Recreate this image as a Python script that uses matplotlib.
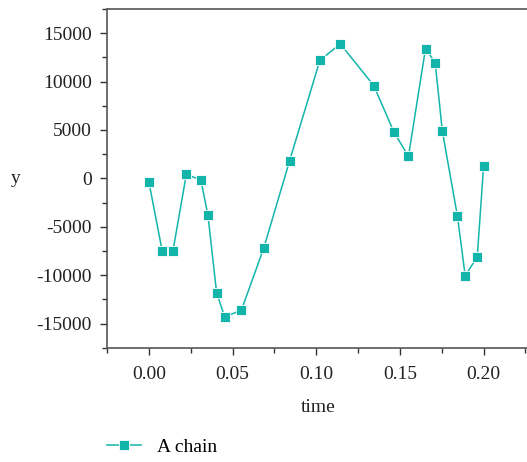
import matplotlib
matplotlib.use("Agg")
import matplotlib.pyplot as plt
from matplotlib.ticker import MultipleLocator

time = [0.0, 0.008, 0.0144, 0.0224, 0.0311, 0.0353, 0.0405, 0.0453, 0.0553, 0.0687,
        0.0841, 0.1022, 0.1144, 0.1344, 0.1464, 0.1551, 0.1653, 0.1711, 0.1753,
        0.1844, 0.1890, 0.1962, 0.2]
y = [-350, -7520, -7490, 414, -176, -3800, -11830, -14320, -13620, -7180,
     1820, 12200, 13890, 9580, 4790, 2270, 13410, 11930, 4930,
     -3930, -10070, -8110, 1270]
series_name = "A chain"
color = "#13b5aa"

plt.rcParams['font.family'] = ['Liberation Serif', 'DejaVu Serif']
plt.rcParams['axes.unicode_minus'] = False
fs = 14
fig = plt.figure(figsize=(5.27, 4.62), dpi=100)
ax = fig.add_axes([107/527, 1-347.7/462, (527-107)/527 + 0.005, (347.7-9)/462])

ax.plot(time, y, '-s', color=color, lw=1.1, ms=7.5, mec='white', mew=0.6,
        label=series_name)
ax.set_xlim(-0.025, 0.2275)
ax.set_ylim(-17500, 17500)
ax.xaxis.set_major_locator(MultipleLocator(0.05))
ax.xaxis.set_minor_locator(MultipleLocator(0.025))
ax.yaxis.set_major_locator(MultipleLocator(5000))
ax.yaxis.set_minor_locator(MultipleLocator(2500))
ax.xaxis.set_major_formatter(matplotlib.ticker.FormatStrFormatter('%.2f'))
ax.tick_params(which='both', direction='out', colors='#333333', labelcolor='#222222',
               labelsize=fs)
ax.tick_params(which='major', length=5, width=1)
ax.tick_params(which='minor', length=3.5, width=1)
ax.tick_params(axis='x', which='major', pad=8)
ax.tick_params(axis='y', which='major', pad=6)
for s in ['left', 'bottom', 'top']:
    ax.spines[s].set_color('#555555')
    ax.spines[s].set_linewidth(1.2)
ax.spines['right'].set_visible(False)

ax.set_xlabel('time', fontsize=fs, color='#222222', labelpad=12)
ax.set_ylabel('y', fontsize=fs, color='#222222', rotation=0, va='center', ha='center')
ax.yaxis.set_label_coords(-0.215, 0.5)

fig.legend(loc='center left', bbox_to_anchor=(107/527, 1-447/462), frameon=False,
           fontsize=fs, handlelength=1.75, handletextpad=0.8, borderpad=0,
           borderaxespad=0)

fig.savefig('out.png', dpi=100)
